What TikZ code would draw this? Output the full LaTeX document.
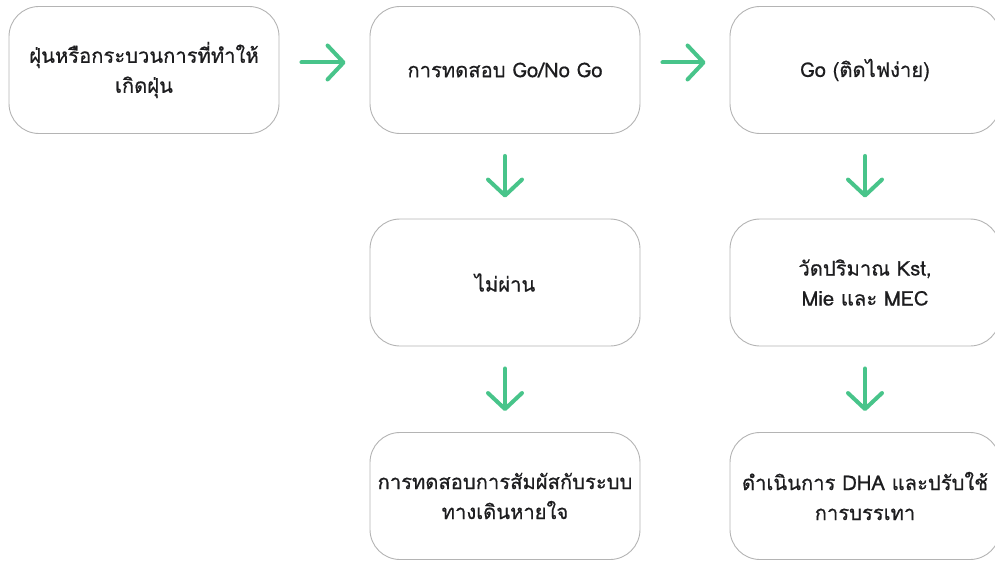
\documentclass[tikz,border=0pt]{standalone}
\usepackage{fontspec}
\setmainfont[Script=Thai,FakeBold=0.6]{Loma}
\usetikzlibrary{arrows.meta}
\definecolor{arrowgreen}{HTML}{48C48A}
\definecolor{boxgray}{HTML}{B4B4B4}
\definecolor{txt}{HTML}{1D1D1F}
\tikzset{
  box/.style={draw=boxgray, line width=0.9pt, rounded corners=30pt, minimum width=270pt, minimum height=127pt, align=center, text=txt, font=\fontsize{20.2pt}{30pt}\selectfont, fill=white},
  flow/.style={draw=arrowgreen, line width=4pt, line cap=round, -{Straight Barb[length=16pt,width=34pt,round]}},
}
\begin{document}
\begin{tikzpicture}[x=1pt,y=-1pt]
\useasboundingbox (0,0) rectangle (995,564);
\clip (0,0) rectangle (995,564);
\node[box] (b1) at (144,70) {ฝุ่นหรือกระบวนการที่ทำให้\\เกิดฝุ่น};
\node[box] (b2) at (505,70) {การทดสอบ Go/No Go};
\node[box] (b3) at (865,70) {Go (ติดไฟง่าย)};
\node[box] (b4) at (505,282.5) {ไม่ผ่าน};
\node[box] (b5) at (865,282.5) {วัดปริมาณ Kst,\\Mie และ MEC};
\node[box] (b6) at (505,496) {การทดสอบการสัมผัสกับระบบ\\ทางเดินหายใจ};
\node[box] (b7) at (865,496) {ดำเนินการ DHA และปรับใช้\\การบรรเทา};
\draw[flow, shorten <=22pt, shorten >=24pt] ([yshift=7.5pt]b1.east) -- ([yshift=7.5pt]b2.west);
\draw[flow, shorten <=22pt, shorten >=24pt] ([yshift=7.5pt]b2.east) -- ([yshift=7.5pt]b3.west);
\draw[flow, shorten <=22pt, shorten >=21pt] (b2.south) -- (b4.north);
\draw[flow, shorten <=22pt, shorten >=21pt] (b3.south) -- (b5.north);
\draw[flow, shorten <=22pt, shorten >=21pt] (b4.south) -- (b6.north);
\draw[flow, shorten <=22pt, shorten >=21pt] (b5.south) -- (b7.north);
\end{tikzpicture}
\end{document}
